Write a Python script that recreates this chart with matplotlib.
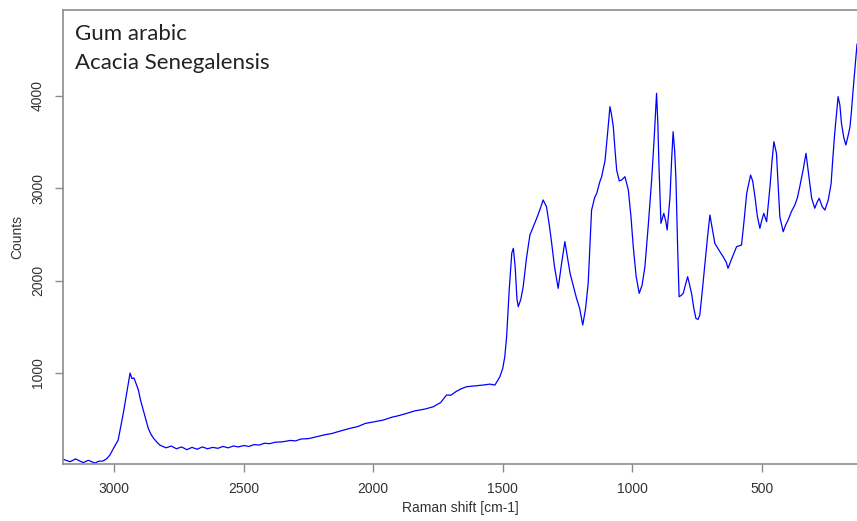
import matplotlib
matplotlib.use('Agg')
import matplotlib.pyplot as plt

# Raman spectrum (shift in cm-1, counts)
shift = [3197, 3170, 3150, 3120, 3100, 3075, 3060, 3044, 3030, 3017,
         3000, 2985, 2975, 2965, 2952, 2945, 2939, 2932, 2924, 2915,
         2907, 2898, 2888, 2878, 2869, 2859, 2849, 2835, 2824, 2800,
         2780, 2760, 2740, 2720, 2700, 2680, 2660, 2640, 2620, 2600,
         2580, 2560, 2540, 2520, 2500, 2480, 2460, 2440, 2420, 2400,
         2380, 2349, 2320, 2300, 2280, 2250, 2219, 2190, 2160, 2130,
         2090, 2060, 2030, 2000, 1961, 1930, 1900, 1871, 1840, 1800,
         1768, 1740, 1717, 1700, 1680, 1660, 1639, 1610, 1575, 1550,
         1530, 1511, 1500, 1492, 1485, 1475, 1465, 1459, 1452, 1445,
         1440, 1430, 1421, 1408, 1395, 1380, 1369, 1355, 1344, 1331,
         1320, 1311, 1300, 1286, 1272, 1260, 1250, 1240, 1228, 1215,
         1203, 1191, 1180, 1170, 1163, 1157, 1145, 1137, 1125, 1118,
         1105, 1095, 1086, 1080, 1073, 1066, 1060, 1050, 1041, 1028,
         1015, 1005, 996, 985, 973, 962, 951, 938, 925, 915,
         906, 901, 897, 889, 878, 871, 865, 854, 848, 842,
         836, 831, 825, 819, 811, 803, 795, 786, 778, 771,
         762, 754, 746, 739, 729, 719, 710, 700, 690, 681,
         665, 649, 637, 630, 614, 597, 578, 568, 558, 543,
         535, 526, 517, 507, 500, 492, 481, 468, 460, 453,
         443, 436, 430, 417, 408, 398, 385, 372, 362, 353,
         340, 329, 320, 307, 295, 286, 278, 266, 256, 243,
         232, 226, 218, 205, 198, 192, 183, 175, 168, 159,
         153, 147, 140, 132]
counts = [65, 40, 70, 30, 55, 25, 45, 47, 70, 112,
          200, 274, 420, 567, 783, 900, 1000, 940, 946, 880,
          816, 700, 599, 500, 404, 340, 296, 250, 220, 190,
          210, 180, 200, 170, 195, 175, 200, 180, 195, 185,
          205, 190, 210, 200, 215, 205, 225, 220, 240, 235,
          250, 256, 270, 265, 285, 290, 310, 330, 345, 370,
          401, 420, 455, 470, 491, 520, 540, 563, 590, 610,
          635, 680, 762, 760, 800, 830, 852, 860, 870, 880,
          870, 960, 1050, 1177, 1393, 1900, 2300, 2350, 2150, 1800,
          1718, 1800, 1935, 2250, 2495, 2600, 2675, 2780, 2874, 2801,
          2600, 2405, 2150, 1917, 2200, 2423, 2250, 2080, 1950, 1809,
          1700, 1520, 1700, 1971, 2400, 2762, 2900, 2946, 3072, 3126,
          3300, 3600, 3884, 3800, 3667, 3400, 3198, 3080, 3090, 3126,
          2982, 2700, 2368, 2050, 1863, 1950, 2151, 2600, 3090, 3550,
          4029, 3700, 3271, 2621, 2729, 2650, 2549, 2910, 3300, 3613,
          3400, 3090, 2400, 1826, 1840, 1863, 1950, 2043, 1950, 1863,
          1700, 1592, 1580, 1628, 1900, 2188, 2450, 2711, 2550, 2405,
          2330, 2260, 2200, 2134, 2250, 2368, 2386, 2650, 2946, 3144,
          3080, 2910, 2700, 2567, 2650, 2729, 2639, 3018, 3300, 3505,
          3379, 3000, 2693, 2530, 2600, 2657, 2750, 2819, 2900, 3018,
          3200, 3379, 3180, 2892, 2784, 2850, 2892, 2800, 2765, 2874,
          3050, 3300, 3600, 3993, 3900, 3704, 3550, 3469, 3550, 3667,
          3850, 4065, 4300, 4560]

x_ticks = [3000, 2500, 2000, 1500, 1000, 500]
y_ticks = [1000, 2000, 3000, 4000]

W, H = 857, 521
fig = plt.figure(figsize=(W / 100, H / 100), dpi=100)
ax = fig.add_axes([63 / W, 1 - 464 / H, (W - 63) / W, 454 / H])

ax.plot(shift, counts, color='#0000ff', lw=0.9)

ax.set_xlim(3198, 132)
ax.set_ylim(15, 4931)
ax.set_xticks(x_ticks)
ax.set_yticks(y_ticks)

gray = '#8c8c8c'
for side in ['left', 'bottom', 'top']:
    ax.spines[side].set_color(gray)
    ax.spines[side].set_linewidth(1.2)
ax.spines['right'].set_visible(False)

ax.tick_params(axis='both', colors=gray, length=6, width=1, labelcolor='#333333',
               labelsize=10)
ax.tick_params(axis='x', pad=7)
ax.tick_params(axis='y', pad=7)
for lab in ax.get_xticklabels() + ax.get_yticklabels():
    lab.set_family('Liberation Sans')
for lab in ax.get_yticklabels():
    lab.set_rotation(90)
    lab.set_va('center')

ax.set_xlabel('Raman shift [cm-1]', family='Liberation Sans', fontsize=10,
              color='#333333', va='center')
ax.set_ylabel('Counts', family='Liberation Sans', fontsize=10, color='#333333', va='center')
ax.xaxis.set_label_coords(0.5, -0.096)
ax.yaxis.set_label_coords(-0.058, 0.5)

fig.text(75 / W, 1 - 40 / H, 'Gum arabic', family='Lato', fontsize=16,
         color='#222222', va='baseline')
fig.text(75 / W, 1 - 69 / H, 'Acacia Senegalensis', family='Lato', fontsize=16,
         color='#222222', va='baseline')

fig.savefig('out.png', dpi=100)
